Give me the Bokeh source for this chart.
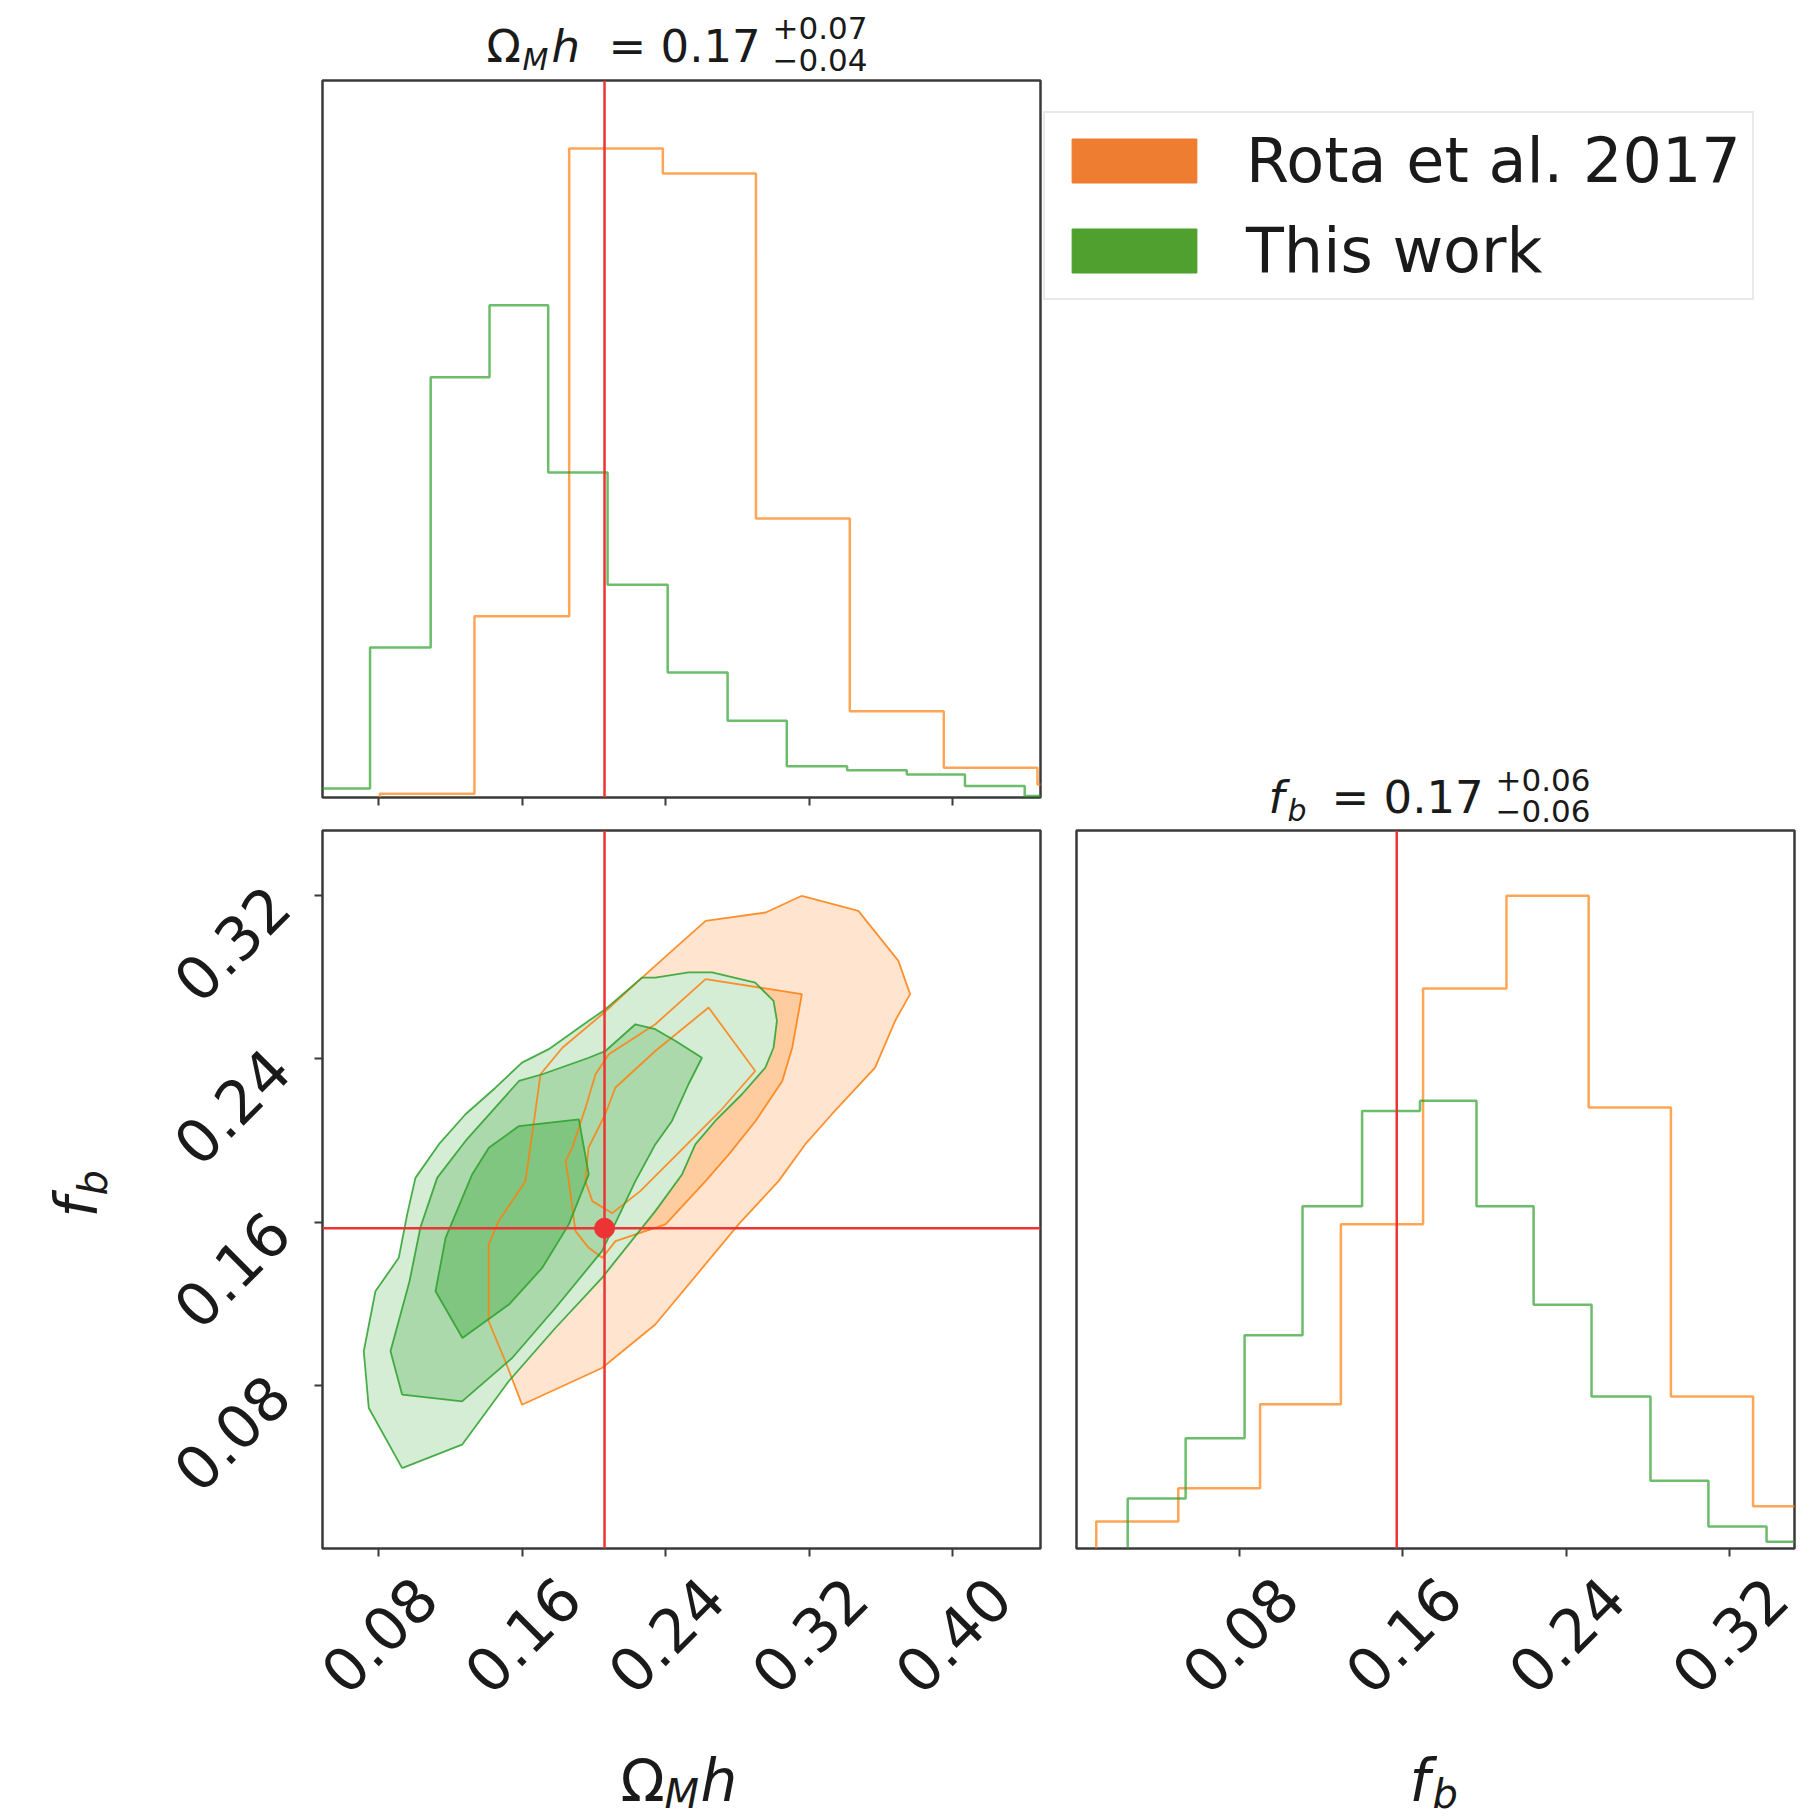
import math
from bokeh.plotting import figure
from bokeh.layouts import column, row
from bokeh.models import (Label, Legend, LegendItem, FixedTicker, CustomJSTickFormatter,
                          Range1d, Span)
from bokeh.embed import file_html
from bokeh.resources import INLINE

# ---------------- data ----------------
OMH_TRUE = 0.206   # reference value of Omega_M h
FB_TRUE = 0.157    # reference baryon fraction

omh_ticks = [0.08, 0.16, 0.24, 0.32, 0.40]
fb_ticks = [0.08, 0.16, 0.24, 0.32]

# 1D marginal of Omega_M h (bin edges, counts)
omh_edges_rota = [0.0808, 0.1335, 0.1863, 0.2385, 0.2904, 0.3427, 0.3951, 0.4473, 0.4996]
omh_counts_rota = [7, 347, 1242, 1194, 534, 165, 57, 25]
omh_edges_this = [0.0421, 0.0753, 0.1091, 0.1419, 0.1746, 0.2077, 0.2412, 0.2746,
                  0.3076, 0.3412, 0.3745, 0.4069, 0.4402, 0.4734]
omh_counts_this = [17, 287, 804, 942, 622, 407, 239, 147, 60, 52, 44, 22, 3]

# 1D marginal of f_b
fb_edges_rota = [0.0097, 0.0499, 0.0900, 0.1296, 0.1699, 0.2108, 0.2511, 0.2914, 0.3317, 0.3720]
fb_counts_rota = [53, 118, 283, 636, 1098, 1280, 865, 298, 83]
fb_edges_this = [0.0251, 0.0535, 0.0824, 0.1108, 0.1400, 0.1684, 0.1961, 0.2241,
                 0.2525, 0.2814, 0.3098, 0.3383, 0.3667]
fb_counts_this = [98, 216, 418, 671, 858, 878, 671, 478, 298, 133, 43, 13]

# 2D credible regions (Omega_M h, f_b), outer -> inner
rota_outer_x = [0.3160, 0.3475, 0.3698, 0.3763, 0.3680, 0.3568, 0.3327, 0.3178, 0.3030, 0.2807,
                0.2343, 0.2046, 0.1600, 0.1507, 0.1414, 0.1414, 0.1470, 0.1619, 0.1675, 0.1703,
                0.1825, 0.2047, 0.2269, 0.2623, 0.2958]
rota_outer_y = [0.3200, 0.3126, 0.2881, 0.2718, 0.2587, 0.2357, 0.2129, 0.1981, 0.1801, 0.1589,
                0.1098, 0.0885, 0.0705, 0.0918, 0.1114, 0.1491, 0.1605, 0.1801, 0.2145, 0.2325,
                0.2455, 0.2619, 0.2799, 0.3077, 0.3118]
rota_mid_x = [0.2623, 0.3160, 0.3106, 0.3051, 0.2902, 0.2753, 0.2623, 0.2400, 0.2121, 0.2047,
              0.1972, 0.1898, 0.1861, 0.1843, 0.1880, 0.1954, 0.2010, 0.2084, 0.2343]
rota_mid_y = [0.2791, 0.2718, 0.2455, 0.2292, 0.2096, 0.1932, 0.1801, 0.1589, 0.1507, 0.1425,
              0.1474, 0.1556, 0.1801, 0.1899, 0.1965, 0.2161, 0.2325, 0.2423, 0.2570]
rota_inner_x = [0.2640, 0.2900, 0.2705, 0.2482, 0.2259, 0.2103, 0.1992, 0.1953, 0.1971, 0.2064,
                0.2120, 0.2343]
rota_inner_y = [0.2652, 0.2341, 0.2145, 0.1948, 0.1752, 0.1644, 0.1703, 0.1801, 0.1965, 0.2129,
                0.2259, 0.2439]

this_outer_x = [0.0932, 0.1266, 0.1526, 0.1786, 0.2046, 0.2343, 0.2492, 0.2566, 0.2677, 0.2826,
                0.2956, 0.3002, 0.3021, 0.3002, 0.2900, 0.2659, 0.2528, 0.2343, 0.2269, 0.2065,
                0.1972, 0.1749, 0.1600, 0.1452, 0.1285, 0.1136, 0.1006, 0.0960, 0.0913, 0.0783,
                0.0718, 0.0746]
this_outer_y = [0.0394, 0.0509, 0.0820, 0.1081, 0.1327, 0.1654, 0.1834, 0.1981, 0.2096, 0.2227,
                0.2357, 0.2455, 0.2587, 0.2685, 0.2774, 0.2824, 0.2824, 0.2799, 0.2799, 0.2644,
                0.2587, 0.2448, 0.2382, 0.2259, 0.2129, 0.1981, 0.1817, 0.1638, 0.1425, 0.1261,
                0.0967, 0.0689]
this_mid_x = [0.0932, 0.1266, 0.1545, 0.1786, 0.2046, 0.2232, 0.2343, 0.2436, 0.2528, 0.2603,
              0.2456, 0.2343, 0.2232, 0.2065, 0.1972, 0.1713, 0.1583, 0.1285, 0.1127, 0.1034,
              0.0973, 0.0867]
this_mid_y = [0.0754, 0.0721, 0.0934, 0.1179, 0.1458, 0.1801, 0.1981, 0.2096, 0.2276, 0.2406,
              0.2488, 0.2546, 0.2570, 0.2439, 0.2406, 0.2325, 0.2292, 0.1998, 0.1817, 0.1575,
              0.1310, 0.0967]
this_inner_x = [0.1583, 0.1917, 0.1972, 0.1861, 0.1713, 0.1527, 0.1268, 0.1118, 0.1174, 0.1322,
                0.1415]
this_inner_y = [0.2071, 0.2104, 0.1834, 0.1589, 0.1376, 0.1196, 0.1032, 0.1261, 0.1523, 0.1834,
                0.1965]

series_names = ["Rota et al. 2017", "This work"]

# ---------------- style ----------------
FONT = "DejaVu Sans"
TXT = "#1a1a1a"
ORANGE = "#ff7f0e"
GREEN = "#2ca02c"
RED = "#ec3434"
ORANGE_FILLS = ["#ffe5cf", "#ffcc9f", "#ffb26e"]
GREEN_FILLS = ["#d5ecd5", "#abd9ab", "#80c680"]
FRAME = "#3a3a3a"
TICK_FS = 60

OMH_RANGE = Range1d(0.0488, 0.449)
FB_X_RANGE = Range1d(0.0, 0.352)
FB_Y_RANGE = Range1d(0.0, 0.352)


def make_fig(w, h, xr, yr, bl, br, bt, bb):
    p = figure(width=w, height=h, x_range=xr, y_range=yr,
               output_backend="svg", toolbar_location=None, frame_align=False,
               min_border_left=bl, min_border_right=br,
               min_border_top=bt, min_border_bottom=bb)
    p.grid.visible = False
    p.outline_line_color = FRAME
    p.outline_line_width = 2.5
    p.background_fill_color = "white"
    p.border_fill_color = "white"
    return p


def strip(w, h, xr=None, bl=0, br=0):
    """Blank text band; shares the panel's x scale when xr is given."""
    p = figure(width=w, height=h, x_range=xr if xr is not None else Range1d(0, w),
               y_range=Range1d(0, h), output_backend="svg", toolbar_location=None,
               frame_align=False, x_axis_location=None, y_axis_location=None,
               min_border_left=bl, min_border_right=br, min_border_top=0, min_border_bottom=0)
    p.grid.visible = False
    p.outline_line_color = None
    p.background_fill_color = "white"
    p.border_fill_color = "white"
    return p


def style_axis(ax, ticks, show_labels=False):
    ax.ticker = FixedTicker(ticks=ticks, minor_ticks=[])
    if show_labels:
        ax.formatter = CustomJSTickFormatter(code="return tick.toFixed(2)")
        ax.major_label_text_font = FONT
        ax.major_label_text_font_size = f"{TICK_FS}px"
        ax.major_label_text_color = TXT
    else:
        ax.formatter = CustomJSTickFormatter(code="return ''")
        ax.major_label_text_font_size = "0px"
        ax.major_label_standoff = 0
    ax.axis_line_color = None
    ax.major_tick_out = 8
    ax.major_tick_in = 0
    ax.major_tick_line_color = FRAME
    ax.major_tick_line_width = 2
    ax.minor_tick_line_color = None


def step_xy(edges, counts):
    xs, ys = [edges[0]], [0]
    for i, c in enumerate(counts):
        xs += [edges[i], edges[i + 1]]
        ys += [c, c]
    xs.append(edges[-1])
    ys.append(0)
    return xs, ys


def closed(a):
    return list(a) + [a[0]]


def txt(p, x, y, s, size, italic=False, angle=0, align="left",
        xu="screen", yu="screen"):
    p.add_layout(Label(x=x, y=y, x_units=xu, y_units=yu, text=s,
                       text_font=FONT, text_font_size=f"{size}px",
                       text_font_style="italic" if italic else "normal",
                       text_color=TXT, angle=angle, angle_units="deg",
                       text_align=align, text_baseline="middle"))


def xtick_labels(p, ticks):
    for t in ticks:
        txt(p, t, 184, f"{t:.2f}", TICK_FS, angle=45, align="center", xu="data", yu="screen")


# ---------------- top-left: Omega_M h marginal ----------------
t_title_tl = strip(1043, 79)
txt(t_title_tl, 486, 33, "Ω", 45)
txt(t_title_tl, 522, 20, "M", 30, italic=True)
txt(t_title_tl, 551, 33, "h", 45, italic=True)
txt(t_title_tl, 608, 33, "= 0.17", 45)
txt(t_title_tl, 772, 52, "+0.07", 31)
txt(t_title_tl, 772, 20, "−0.04", 31)

p_tl = make_fig(1043, 734, OMH_RANGE, Range1d(0, 1372), 322, 3, 1, 16)
style_axis(p_tl.xaxis[0], omh_ticks)
p_tl.yaxis.visible = False
for edges, counts, col in [(omh_edges_rota, omh_counts_rota, ORANGE),
                           (omh_edges_this, omh_counts_this, GREEN)]:
    sx, sy = step_xy(edges, counts)
    p_tl.line(sx, sy, line_color=col, line_width=2.5, line_alpha=0.7)
p_tl.add_layout(Span(location=OMH_TRUE, dimension="height", line_color=RED, line_width=2.5))

# ---------------- legend panel ----------------
p_leg = strip(775, 760)
r_rota = p_leg.quad(left=[5000], right=[5001], bottom=[5000], top=[5001],
                    fill_color="#ee7d31", line_color="#ee7d31")
r_this = p_leg.quad(left=[5000], right=[5001], bottom=[5000], top=[5001],
                    fill_color="#4fa02f", line_color="#4fa02f")
legend = Legend(items=[LegendItem(label=series_names[0], renderers=[r_rota]),
                       LegendItem(label=series_names[1], renderers=[r_this])],
                location=(0, 460), orientation="vertical",
                glyph_width=156, glyph_height=55, label_standoff=34,
                padding=11, spacing=17, margin=0,
                label_text_font=FONT, label_text_font_size="62px", label_text_color=TXT,
                border_line_color="#d4d4d4", border_line_width=2,
                background_fill_color="white", background_fill_alpha=1.0)
p_leg.add_layout(legend)

# ---------------- bottom-left: 2D contours ----------------
p_bl = make_fig(923, 747, OMH_RANGE, FB_Y_RANGE, 202, 3, 17, 12)
style_axis(p_bl.xaxis[0], omh_ticks)
style_axis(p_bl.yaxis[0], fb_ticks, show_labels=True)
p_bl.yaxis.major_label_orientation = math.pi / 4
p_bl.yaxis.major_label_standoff = 36

rota_levels = [(rota_outer_x, rota_outer_y), (rota_mid_x, rota_mid_y), (rota_inner_x, rota_inner_y)]
this_levels = [(this_outer_x, this_outer_y), (this_mid_x, this_mid_y), (this_inner_x, this_inner_y)]

for (cx, cy), fc in zip(rota_levels, ORANGE_FILLS):
    p_bl.patch(cx, cy, fill_color=fc, line_color=None)
for (cx, cy), fc in zip(this_levels, GREEN_FILLS):
    p_bl.patch(cx, cy, fill_color=fc, line_color=None)
for cx, cy in rota_levels:
    p_bl.line(closed(cx), closed(cy), line_color=ORANGE, line_width=1.8, line_alpha=0.85)
for cx, cy in this_levels:
    p_bl.line(closed(cx), closed(cy), line_color=GREEN, line_width=1.8, line_alpha=0.85)

p_bl.add_layout(Span(location=OMH_TRUE, dimension="height", line_color=RED, line_width=2.5))
p_bl.add_layout(Span(location=FB_TRUE, dimension="width", line_color=RED, line_width=2.5))
p_bl.scatter([OMH_TRUE], [FB_TRUE], size=20, color=RED)

# y label f_b (reads upward)
ylab = strip(120, 1005)
txt(ylab, 76, 601, "f", 58, italic=True, angle=90)
txt(ylab, 92, 623, "b", 40, italic=True, angle=90)

# x tick labels and x label Omega_M h
xlab_bl = strip(923, 258, xr=OMH_RANGE, bl=202, br=3)
xtick_labels(xlab_bl, omh_ticks)
txt(xlab_bl, 298, 38, "Ω", 58)
txt(xlab_bl, 342, 25, "M", 40, italic=True)
txt(xlab_bl, 378, 38, "h", 58, italic=True)

# ---------------- bottom-right: f_b marginal ----------------
t_title_br = strip(775, 69)
txt(t_title_br, 225, 32, "f", 45, italic=True)
txt(t_title_br, 244, 19, "b", 30, italic=True)
txt(t_title_br, 288, 32, "= 0.17", 45)
txt(t_title_br, 452, 50, "+0.06", 31)
txt(t_title_br, 452, 19, "−0.06", 31)

p_br = make_fig(775, 731, FB_X_RANGE, Range1d(0, 1408), 33, 24, 1, 12)
style_axis(p_br.xaxis[0], fb_ticks)
p_br.yaxis.visible = False
for edges, counts, col in [(fb_edges_rota, fb_counts_rota, ORANGE),
                           (fb_edges_this, fb_counts_this, GREEN)]:
    sx, sy = step_xy(edges, counts)
    p_br.line(sx, sy, line_color=col, line_width=2.5, line_alpha=0.7)
p_br.add_layout(Span(location=FB_TRUE, dimension="height", line_color=RED, line_width=2.5))

xlab_br = strip(775, 258, xr=FB_X_RANGE, bl=33, br=24)
xtick_labels(xlab_br, fb_ticks)
txt(xlab_br, 333, 38, "f", 58, italic=True)
txt(xlab_br, 356, 25, "b", 40, italic=True)

left = column(t_title_tl, p_tl, row(ylab, column(p_bl, xlab_bl)))
right = column(p_leg, t_title_br, p_br, xlab_br)
layout = row(left, right)

with open("out.html", "w") as f:
    f.write(file_html(layout, INLINE))
